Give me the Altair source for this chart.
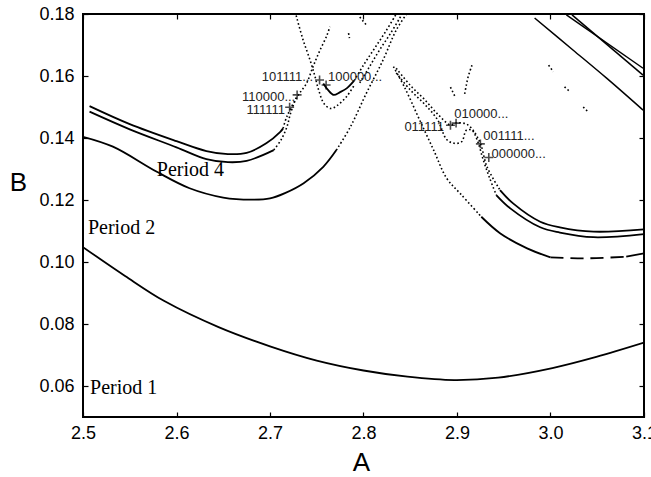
import altair as alt
import pandas as pd

# ---------------- data ----------------
X_TICKS = [2.5, 2.6, 2.7, 2.8, 2.9, 3.0, 3.1]
Y_TICKS = [0.06, 0.08, 0.10, 0.12, 0.14, 0.16, 0.18]

# Period 1 curve
P1_A = [2.50, 2.545, 2.587, 2.645, 2.70, 2.75, 2.80, 2.847, 2.897, 2.944, 3.002, 3.049, 3.10]
P1_B = [0.1048, 0.0955, 0.0874, 0.0790, 0.0728, 0.0682, 0.0650, 0.0630, 0.0619, 0.0627, 0.0658, 0.0694, 0.0740]

# Period 2, left branch
P2L_A = [2.50, 2.532, 2.579, 2.614, 2.650, 2.680, 2.700, 2.716, 2.736, 2.757, 2.771]
P2L_B = [0.1404, 0.1372, 0.1291, 0.1238, 0.1208, 0.1201, 0.1205, 0.1222, 0.1254, 0.1307, 0.1361]
P2L_DOT_A = [2.771, 2.786, 2.803, 2.821, 2.835, 2.846]
P2L_DOT_B = [0.1361, 0.1436, 0.1544, 0.1652, 0.1748, 0.1800]

# Period 2, right branch
P2R_DOT_A = [2.832, 2.844, 2.859, 2.875, 2.889, 2.904, 2.926]
P2R_DOT_B = [0.1630, 0.1563, 0.1465, 0.1361, 0.1270, 0.1219, 0.1146]
P2R_A = [2.926, 2.946, 2.975, 3.000]
P2R_B = [0.1146, 0.1093, 0.1044, 0.1015]
P2R_DASH_A = [3.000, 3.039, 3.081]
P2R_DASH_B = [0.1015, 0.1012, 0.1017]
P2R_END_A = [3.081, 3.100]
P2R_END_B = [0.1017, 0.1028]

# Period 4, left pair
P4LU_A = [2.507, 2.55, 2.60, 2.632, 2.655, 2.675, 2.696, 2.711, 2.714]
P4LU_B = [0.1503, 0.1445, 0.1390, 0.1358, 0.1348, 0.1352, 0.1383, 0.1420, 0.1431]
P4LL_A = [2.507, 2.55, 2.60, 2.632, 2.655, 2.675, 2.704]
P4LL_B = [0.1485, 0.1428, 0.1370, 0.1332, 0.1322, 0.1326, 0.1361]
P4LL_DOT_A = [2.704, 2.712, 2.718, 2.722, 2.728]
P4LL_DOT_B = [0.1361, 0.1395, 0.1435, 0.1480, 0.1530]

# crossing dotted lines near A = 2.74
X1_A = [2.714, 2.718, 2.729, 2.739, 2.746, 2.753, 2.761, 2.764]
X1_B = [0.1431, 0.1469, 0.1533, 0.1576, 0.1630, 0.1680, 0.1732, 0.1759]
X2_A = [2.728, 2.735, 2.743, 2.748, 2.752, 2.758, 2.765, 2.772, 2.782, 2.790]
X2_B = [0.1795, 0.1720, 0.1650, 0.1600, 0.1555, 0.1510, 0.1495, 0.1505, 0.1534, 0.1570]

# small solid loop and the rising pair to the top
U_A = [2.757, 2.762, 2.768, 2.775, 2.782, 2.790]
U_B = [0.1576, 0.1555, 0.1539, 0.1548, 0.1560, 0.1585]
R1_A = [2.790, 2.800, 2.812, 2.824, 2.835]
R1_B = [0.1585, 0.1635, 0.1690, 0.1745, 0.1800]
R2_A = [2.796, 2.806, 2.817, 2.829, 2.840]
R2_B = [0.1578, 0.1628, 0.1683, 0.1738, 0.1793]

# Period 4, right pair
P4RU_DOT_A = [2.835, 2.85, 2.865, 2.88, 2.893, 2.90, 2.91, 2.917, 2.925, 2.932, 2.946]
P4RU_DOT_B = [0.1625, 0.1570, 0.1525, 0.1475, 0.1442, 0.1449, 0.1445, 0.1426, 0.1383, 0.1308, 0.1232]
P4RU_A = [2.946, 2.96, 2.989, 3.01, 3.046, 3.10]
P4RU_B = [0.1232, 0.1189, 0.1130, 0.1112, 0.1098, 0.1105]
P4RL_DOT_A = [2.835, 2.85, 2.865, 2.879, 2.889, 2.897, 2.905, 2.91, 2.916, 2.922, 2.928, 2.935, 2.942]
P4RL_DOT_B = [0.1610, 0.1555, 0.1510, 0.1460, 0.1395, 0.1383, 0.1388, 0.1425, 0.1425, 0.1390, 0.1330, 0.1270, 0.1216]
P4RL_A = [2.942, 2.957, 2.989, 3.01, 3.046, 3.10]
P4RL_B = [0.1216, 0.1173, 0.1112, 0.1095, 0.1080, 0.1090]

# upper-right lines
TRA_A = [2.983, 3.024, 3.06, 3.099]
TRA_B = [0.1787, 0.1684, 0.1593, 0.1490]
TRB_A = [3.017, 3.099]
TRB_B = [0.1797, 0.1625]
TRC_A = [3.023, 3.099]
TRC_B = [0.1797, 0.1603]

# scattered dotted fragments
SC1_A = [2.784, 2.785]
SC1_B = [0.1738, 0.1722]
SC2_A = [2.796, 2.803]
SC2_B = [0.1790, 0.1765]
SC3_A = [2.916, 2.912, 2.910, 2.908]
SC3_B = [0.1635, 0.1598, 0.1571, 0.1539]
SC4_A = [2.893, 2.898]
SC4_B = [0.1564, 0.1533]
SC5_A = [2.998, 3.003]
SC5_B = [0.1635, 0.1614]
SC6_A = [3.015, 3.021]
SC6_B = [0.1565, 0.1549]
SC7_A = [3.035, 3.040]
SC7_B = [0.1500, 0.1485]

# marked points (+)
MK_A = [2.753, 2.760, 2.729, 2.721, 2.893, 2.899, 2.925, 2.934]
MK_B = [0.1587, 0.1571, 0.1539, 0.1499, 0.1441, 0.1448, 0.1381, 0.1337]

# symbolic labels
LBL_R_TEXT = ["101111...", "110000...", "111111", "011111"]
LBL_R_A = [2.746, 2.727, 2.716, 2.886]
LBL_R_B = [0.1597, 0.1532, 0.1490, 0.1437]
LBL_L_TEXT = ["100000...", "010000...", "001111...", "000000..."]
LBL_L_A = [2.762, 2.897, 2.928, 2.937]
LBL_L_B = [0.1597, 0.1479, 0.1405, 0.1348]

# region labels
PER_TEXT = ["Period 1", "Period 2", "Period 4"]
PER_A = [2.5075, 2.5053, 2.579]
PER_B = [0.0594, 0.1110, 0.1297]

SERIES = [
    ("p1", "solid", P1_A, P1_B),
    ("p2l", "solid", P2L_A, P2L_B),
    ("p2ld", "dot", P2L_DOT_A, P2L_DOT_B),
    ("p2rd", "dot", P2R_DOT_A, P2R_DOT_B),
    ("p2r", "solid", P2R_A, P2R_B),
    ("p2rdash", "dash", P2R_DASH_A, P2R_DASH_B),
    ("p2re", "solid", P2R_END_A, P2R_END_B),
    ("p4lu", "solid", P4LU_A, P4LU_B),
    ("p4ll", "solid", P4LL_A, P4LL_B),
    ("p4lld", "dot", P4LL_DOT_A, P4LL_DOT_B),
    ("x1", "dot", X1_A, X1_B),
    ("x2", "dot", X2_A, X2_B),
    ("u", "solid", U_A, U_B),
    ("r1", "dot", R1_A, R1_B),
    ("r2", "dot", R2_A, R2_B),
    ("p4rud", "dot", P4RU_DOT_A, P4RU_DOT_B),
    ("p4ru", "solid", P4RU_A, P4RU_B),
    ("p4rld", "dot", P4RL_DOT_A, P4RL_DOT_B),
    ("p4rl", "solid", P4RL_A, P4RL_B),
    ("tra", "thin", TRA_A, TRA_B),
    ("trb", "thin", TRB_A, TRB_B),
    ("trc", "thin", TRC_A, TRC_B),
    ("sc1", "dot", SC1_A, SC1_B),
    ("sc2", "dot", SC2_A, SC2_B),
    ("sc3", "dot", SC3_A, SC3_B),
    ("sc4", "dot", SC4_A, SC4_B),
    ("sc5", "dot", SC5_A, SC5_B),
    ("sc6", "dot", SC6_A, SC6_B),
    ("sc7", "dot", SC7_A, SC7_B),
]

rows = []
for name, style, xs, ys in SERIES:
    for i, (a, b) in enumerate(zip(xs, ys)):
        rows.append({"s": name, "style": style, "i": i, "A": a, "B": b})
df = pd.DataFrame(rows)

mk = pd.DataFrame({"A": MK_A, "B": MK_B})
lbl_r = pd.DataFrame({"t": LBL_R_TEXT, "A": LBL_R_A, "B": LBL_R_B})
lbl_l = pd.DataFrame({"t": LBL_L_TEXT, "A": LBL_L_A, "B": LBL_L_B})
per = pd.DataFrame({"t": PER_TEXT, "A": PER_A, "B": PER_B})

# ---------------- chart ----------------
W, H = 561, 403
SANS = "Liberation Sans"
SERIF = "Liberation Serif"
xscale = alt.Scale(domain=[2.5, 3.1], nice=False, zero=False)
yscale = alt.Scale(domain=[0.05, 0.18], nice=False, zero=False)

common_axis = dict(offset=-5, tickSize=5, domain=False, grid=False,
                   tickColor="black", tickWidth=1.2, labelColor="black",
                   labelFlush=False, labelOverlap=False)

ax_bottom = alt.Axis(orient="bottom", values=X_TICKS, format=".1f", title="A",
                     labelFont=SANS, labelFontSize=18, labelPadding=7,
                     titleFont=SANS, titleFontSize=26, titleFontWeight="normal",
                     titleColor="black", titleX=278, titleY=50,
                     titleAlign="center", titleBaseline="middle", **common_axis)
ax_left = alt.Axis(orient="left", values=Y_TICKS, format=".2f", title="B",
                   labelFont=SANS, labelFontSize=18, labelPadding=9,
                   titleFont=SANS, titleFontSize=26, titleFontWeight="normal",
                   titleColor="black", titleAngle=0, titleX=-70, titleY=168,
                   titleAlign="center", titleBaseline="middle", **common_axis)
ax_top = alt.Axis(orient="top", values=X_TICKS, labels=False, title="", **common_axis)
ax_right = alt.Axis(orient="right", values=Y_TICKS, labels=False, title="", **common_axis)


def lines(style, xaxis=None, yaxis=None, **mark):
    return alt.Chart(df[df["style"] == style]).mark_line(
        color="black", clip=True, interpolate="catmull-rom", **mark
    ).encode(
        x=alt.X("A:Q", scale=xscale, axis=xaxis),
        y=alt.Y("B:Q", scale=yscale, axis=yaxis),
        detail="s:N",
        order="i:Q",
    )


solid = lines("solid", ax_bottom, ax_left, strokeWidth=1.8)
thin = lines("thin", ax_top, ax_right, strokeWidth=1.5)
dotted = lines("dot", strokeWidth=1.6, strokeDash=[1.6, 2.4])
dashed = lines("dash", strokeWidth=1.8, strokeDash=[13, 7])

plus = alt.Chart(mk).mark_point(
    shape="M-1,0L1,0M0,-1L0,1", filled=False, color="black", strokeWidth=1.6, size=80
).encode(
    x=alt.X("A:Q", scale=xscale, axis=None),
    y=alt.Y("B:Q", scale=yscale, axis=None),
)

txt_r = alt.Chart(lbl_r).mark_text(
    align="right", baseline="middle", font=SANS, fontSize=13, color="#222"
).encode(
    x=alt.X("A:Q", scale=xscale, axis=None),
    y=alt.Y("B:Q", scale=yscale, axis=None),
    text="t:N",
)
txt_l = alt.Chart(lbl_l).mark_text(
    align="left", baseline="middle", font=SANS, fontSize=13, color="#222"
).encode(
    x=alt.X("A:Q", scale=xscale, axis=None),
    y=alt.Y("B:Q", scale=yscale, axis=None),
    text="t:N",
)
txt_p = alt.Chart(per).mark_text(
    align="left", baseline="middle", font=SERIF, fontSize=20, color="black"
).encode(
    x=alt.X("A:Q", scale=xscale, axis=None),
    y=alt.Y("B:Q", scale=yscale, axis=None),
    text="t:N",
)

chart = alt.layer(
    solid, thin, dotted, dashed, plus, txt_r, txt_l, txt_p
).resolve_axis(
    x="independent", y="independent"
).properties(
    width=W, height=H,
    padding={"left": 83, "top": 14, "right": 7, "bottom": 60},
    autosize=alt.AutoSizeParams(type="none"),
    background="white",
).configure_view(
    stroke="black", strokeWidth=2
)

chart.save("out.html", embed_options={"renderer": "svg", "actions": False})
